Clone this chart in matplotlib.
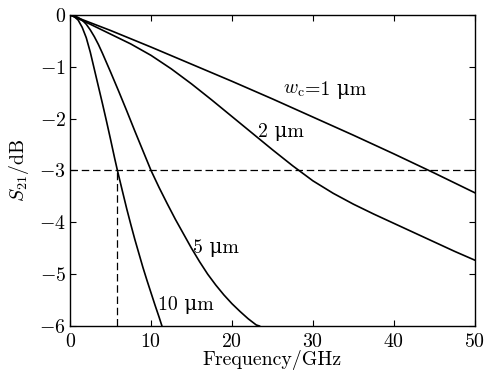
import numpy as np
import matplotlib
matplotlib.use('Agg')
import matplotlib.pyplot as plt

plt.rcParams['font.family'] = ['cmr10', 'DejaVu Serif']
plt.rcParams['mathtext.fontset'] = 'cm'
plt.rcParams['axes.formatter.use_mathtext'] = True
plt.rcParams['font.size'] = 14.3

# frequency (GHz) vs S21 (dB)
f_1um = [0, 5, 10, 15, 20, 25, 30, 35, 40, 45, 50]
s_1um = [0, -0.30, -0.62, -0.95, -1.28, -1.62, -1.97, -2.32, -2.68, -3.05, -3.43]

f_2um = [0, 2.5, 5, 7.5, 10, 12.5, 15, 17.5, 20, 22.5, 25, 27.5, 30, 32.5, 35, 37.5, 40, 42.5, 45, 47.5, 50]
s_2um = [0, -0.18, -0.37, -0.56, -0.78, -1.04, -1.33, -1.64, -1.96, -2.28, -2.60, -2.91,
         -3.20, -3.44, -3.65, -3.84, -4.02, -4.20, -4.38, -4.56, -4.73]

f_5um = [0, 0.5, 1, 1.5, 2, 2.5, 3, 3.5, 4, 4.5, 5, 6, 7, 8, 9, 10, 11, 12, 13, 14, 15, 16,
         17, 18, 19, 20, 21, 22, 23, 23.4]
s_5um = [0, -0.015, -0.05, -0.10, -0.18, -0.29, -0.42, -0.57, -0.74, -0.92, -1.10, -1.47,
         -1.85, -2.24, -2.62, -3.0, -3.33, -3.64, -3.94, -4.22, -4.50, -4.76, -5.0, -5.21,
         -5.40, -5.57, -5.72, -5.86, -5.98, -6.0]

f_10um = [0, 0.5, 1, 1.5, 2, 2.5, 3, 3.5, 4, 4.5, 5, 5.5, 5.85, 6.5, 7, 7.5, 8, 8.5, 9, 9.5, 10, 10.5, 11, 11.35]
s_10um = [0, -0.03, -0.10, -0.24, -0.44, -0.72, -1.05, -1.38, -1.71, -2.05, -2.40, -2.76, -3.0,
          -3.42, -3.74, -4.04, -4.33, -4.60, -4.87, -5.12, -5.36, -5.60, -5.83, -6.0]

cutoff_db = -3
cutoff_f = 5.85

fig = plt.figure(figsize=(4.9, 3.73), dpi=100)
ax = fig.add_axes([0.143, 0.126, 0.826, 0.834])

for f, s in [(f_1um, s_1um), (f_2um, s_2um), (f_5um, s_5um), (f_10um, s_10um)]:
    ax.plot(f, s, color='black', lw=1.2)

ax.plot([0, 50], [cutoff_db, cutoff_db], color='black', lw=0.9, dashes=(6, 3))
ax.plot([cutoff_f, cutoff_f], [-6, cutoff_db], color='black', lw=0.9, dashes=(6, 3))

# w_c needs mathtext, the rest plain text so the upright mu comes through
t1 = ax.text(26.3, -1.45, r'$w_{\rm c}$', va='center', ha='left')
ax.annotate('=1 μm', xy=(1, 0), xycoords=t1, xytext=(0, 0), textcoords='offset points',
            va='bottom', ha='left')
ax.text(23.2, -2.26, '2 μm', va='center', ha='left')
ax.text(15.2, -4.5, '5 μm', va='center', ha='left')
ax.text(10.9, -5.6, '10 μm', va='center', ha='left')

ax.set_xlim(0, 50)
ax.set_ylim(-6, 0)
ax.set_xticks([0, 10, 20, 30, 40, 50])
ax.set_yticks([0, -1, -2, -3, -4, -5, -6])
ax.tick_params(direction='in', top=True, right=True, length=4, width=0.8, pad=3)
ax.tick_params(axis='x', pad=5)
for sp in ax.spines.values():
    sp.set_linewidth(1.0)

ax.set_xlabel('Frequency/GHz', labelpad=-1)
ax.set_ylabel(r'$S_{21}$/dB', labelpad=6)

fig.savefig('out.png', dpi=100)
